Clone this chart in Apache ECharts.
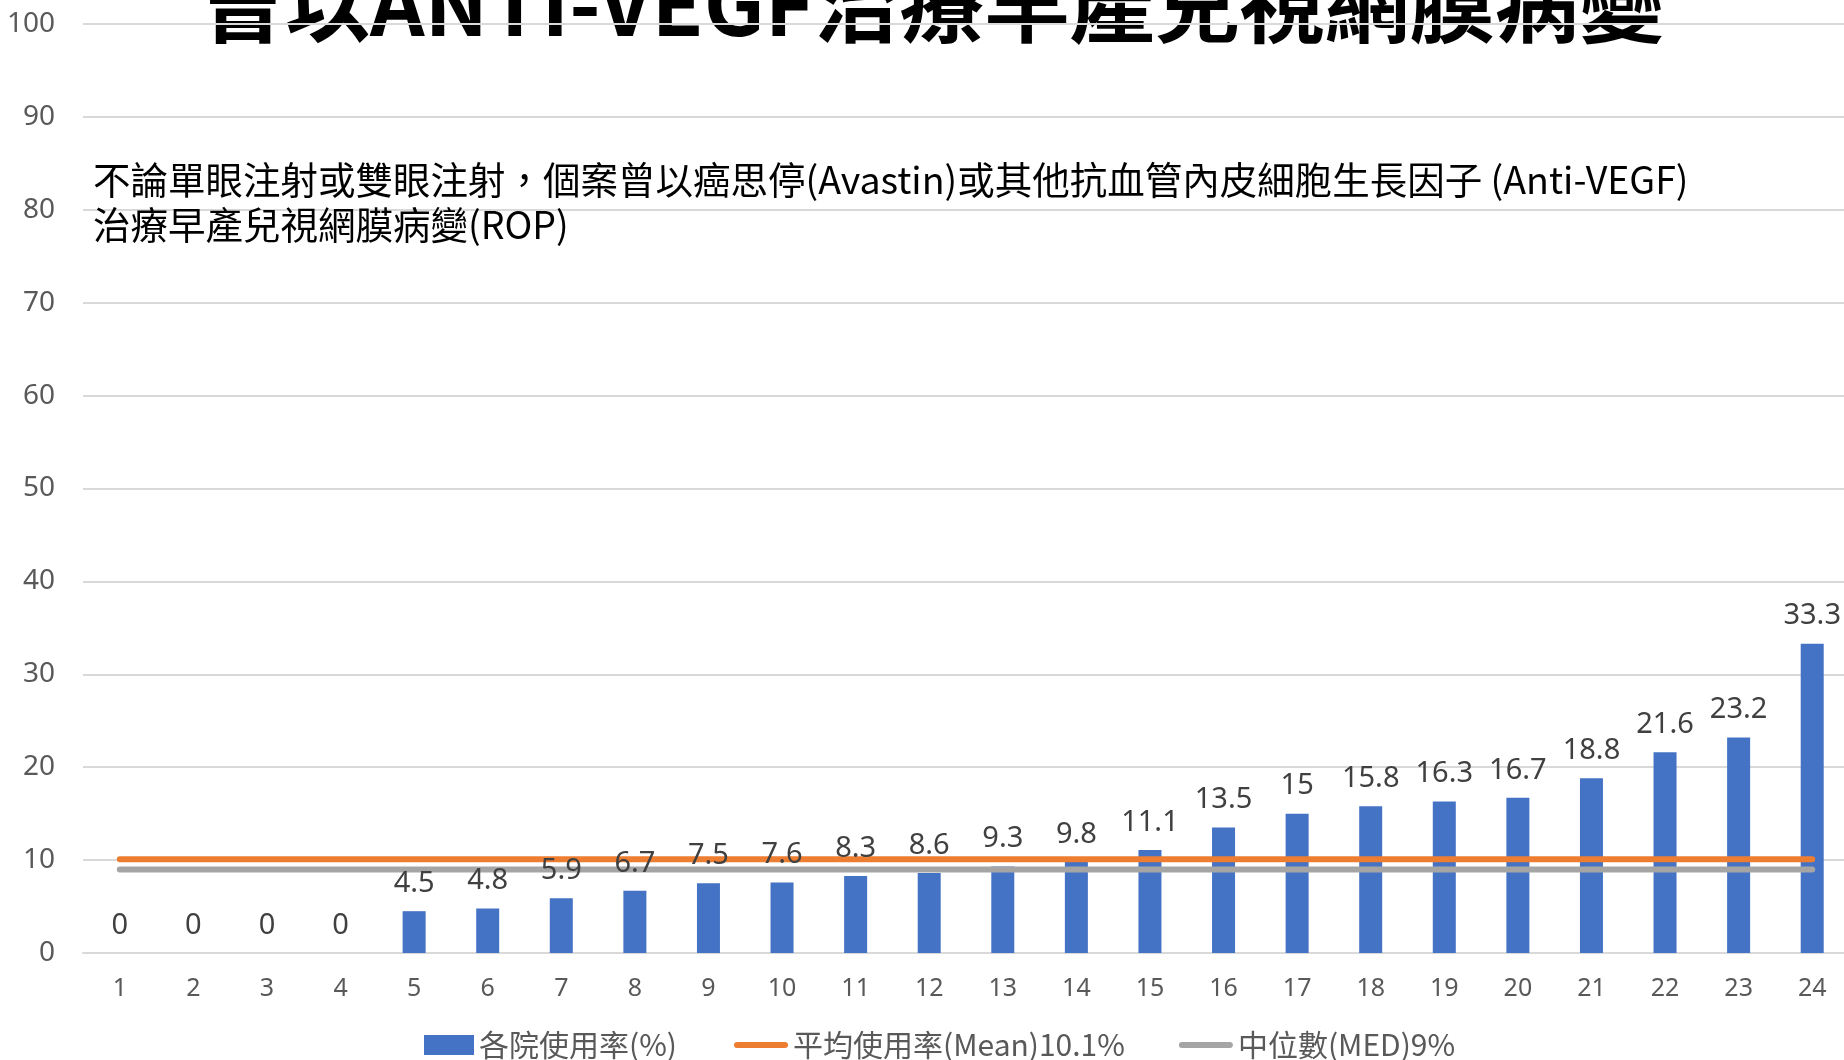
<!DOCTYPE html>
<html>
<head>
<meta charset="utf-8">
<script src="https://cdn.jsdelivr.net/npm/echarts@6/dist/echarts.min.js"></script>
<style>
  html, body { margin: 0; padding: 0; background: #fff; }
  #chart { width: 1844px; height: 1060px; }
</style>
</head>
<body>
<div id="chart"></div>
<script>
// 醫院編號 1~24
let hospitals = ['1', '2', '3', '4', '5', '6', '7', '8', '9', '10', '11', '12',
  '13', '14', '15', '16', '17', '18', '19', '20', '21', '22', '23', '24'];
// 各院使用率(%)
let usageRate = [0, 0, 0, 0, 4.5, 4.8, 5.9, 6.7, 7.5, 7.6, 8.3, 8.6,
  9.3, 9.8, 11.1, 13.5, 15, 15.8, 16.3, 16.7, 18.8, 21.6, 23.2, 33.3];
// 平均 10.1%
let meanRate = [10.1, 10.1, 10.1, 10.1, 10.1, 10.1, 10.1, 10.1, 10.1, 10.1, 10.1, 10.1,
  10.1, 10.1, 10.1, 10.1, 10.1, 10.1, 10.1, 10.1, 10.1, 10.1, 10.1, 10.1];
// 中位數 9%
let medianRate = [9, 9, 9, 9, 9, 9, 9, 9, 9, 9, 9, 9,
  9, 9, 9, 9, 9, 9, 9, 9, 9, 9, 9, 9];
let seriesNames = ['各院使用率(%)', '平均使用率(Mean)10.1%', '中位數(MED)9%'];
let titleText = '曾以ANTI-VEGF治療早產兒視網膜病變';
let noteLines = [
  '不論單眼注射或雙眼注射，個案曾以癌思停(Avastin)或其他抗血管內皮細胞生長因子 (Anti-VEGF)',
  '治療早產兒視網膜病變(ROP)'
];

let font = '"Noto Sans", "Noto Sans CJK TC", sans-serif';
let cjkFont = '"Noto Sans CJK TC", "Noto Sans", sans-serif';
let lineIcon = 'path://M3,0 H51 A3,3 0 0 1 51,6 H3 A3,3 0 0 1 3,0 Z';
let legendText = {
  color: '#595959',
  fontSize: 30,
  fontFamily: cjkFont
};

let myChart = echarts.init(document.getElementById('chart'));
let option = {
  backgroundColor: '#fff',
  animation: false,
  textStyle: { fontFamily: cjkFont },
  grid: {
    left: 83,
    top: 24,
    width: 1766,
    bottom: 107,
    containLabel: false,
    outerBoundsMode: 'none'
  },
  graphic: [{
    type: 'text',
    z: -10,
    left: 200,
    top: -39,
    style: {
      text: titleText,
      fontSize: 85,
      fontWeight: 'bold',
      fontFamily: cjkFont,
      fill: '#000'
    }
  }, {
    type: 'text',
    z: 10,
    left: 93,
    top: 157,
    style: {
      text: noteLines.join('\n'),
      fontSize: 37.5,
      lineHeight: 45,
      fontFamily: cjkFont,
      fill: '#000'
    }
  }],
  legend: [{
    left: 419,
    top: 1025,
    itemWidth: 50,
    itemHeight: 20,
    textStyle: legendText,
    data: [{ name: seriesNames[0], icon: 'rect' }]
  }, {
    left: 729,
    top: 1025,
    itemWidth: 54,
    itemHeight: 20,
    itemGap: 54,
    textStyle: legendText,
    data: [
      { name: seriesNames[1], icon: lineIcon },
      { name: seriesNames[2], icon: lineIcon }
    ]
  }],
  xAxis: {
    type: 'category',
    data: hospitals,
    axisTick: { show: false },
    axisLine: { show: true, lineStyle: { color: '#D9D9D9', width: 2 } },
    axisLabel: {
      color: '#595959',
      fontSize: 25,
      fontFamily: font,
      margin: 23
    }
  },
  yAxis: {
    type: 'value',
    min: 0,
    max: 100,
    interval: 10,
    axisLine: { show: false },
    axisTick: { show: false },
    axisLabel: {
      color: '#595959',
      fontSize: 28,
      fontFamily: font,
      margin: 28
    },
    splitLine: { lineStyle: { color: '#D9D9D9', width: 2 } }
  },
  series: [{
    name: seriesNames[0],
    type: 'bar',
    data: usageRate,
    barWidth: 23,
    itemStyle: { color: '#4472C4' },
    z: 2
  }, {
    name: seriesNames[1],
    type: 'line',
    data: meanRate,
    symbol: 'none',
    lineStyle: { color: '#ED7D31', width: 6, cap: 'round' },
    itemStyle: { color: '#ED7D31' },
    z: 4
  }, {
    name: seriesNames[2],
    type: 'line',
    data: medianRate,
    symbol: 'none',
    lineStyle: { color: '#A5A5A5', width: 6, cap: 'round' },
    itemStyle: { color: '#A5A5A5' },
    z: 3
  }, {
    // 數值標籤畫在線條之上
    name: seriesNames[0],
    type: 'bar',
    data: usageRate,
    barWidth: 23,
    barGap: '-100%',
    itemStyle: { color: 'rgba(0,0,0,0)' },
    label: {
      show: true,
      position: 'top',
      distance: 13,
      color: '#404040',
      fontSize: 29,
      fontFamily: font
    },
    silent: true,
    z: 10
  }]
};

myChart.setOption(option);
</script>
</body>
</html>
